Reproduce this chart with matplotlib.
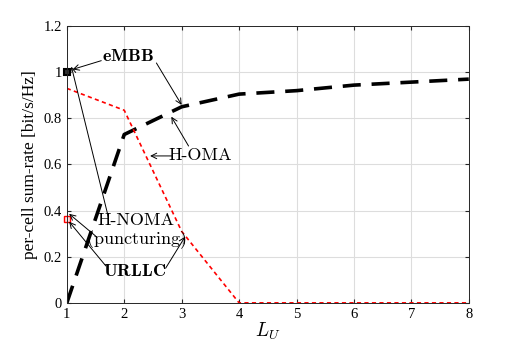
import os
import matplotlib
matplotlib.use("Agg")
import matplotlib.pyplot as plt
from matplotlib.font_manager import FontProperties

plt.rcParams["font.family"] = ["Liberation Serif", "DejaVu Serif"]
plt.rcParams["mathtext.fontset"] = "cm"

# datos
l_u = [1, 2, 3, 4, 5, 6, 7, 8]
h_oma_embb = [0.0, 0.73, 0.85, 0.905, 0.92, 0.944, 0.957, 0.97]
h_oma_urllc = [0.93, 0.835, 0.31, 0.0, 0.0, 0.0, 0.0, 0.0]
punct_embb = [1.0]
punct_urllc = [0.365]
x_punct = [1]

ttf_dir = os.path.join(matplotlib.get_data_path(), "fonts", "ttf")
f_rm = FontProperties(fname=os.path.join(ttf_dir, "cmr10.ttf"), size=13)

fig = plt.figure(figsize=(5.18, 3.43), dpi=100)
ax = fig.add_axes([0.129, 0.117, 0.776, 0.807])

ax.plot(l_u, h_oma_embb, color="black", linewidth=2.6, dashes=(5, 3))
ax.plot(l_u, h_oma_urllc, color="red", linewidth=1.2, dashes=(2.5, 2))
ax.plot(x_punct, punct_embb, "s", color="black", markersize=5,
        markerfacecolor="#333333", markeredgewidth=1.5, clip_on=False)
ax.plot(x_punct, punct_urllc, "s", color="red", markersize=5,
        markerfacecolor="#ffe5e5", markeredgewidth=1.0, clip_on=False)

ax.set_xlim(1, 8)
ax.set_ylim(0, 1.2)
ax.set_xticks(l_u)
ax.set_yticks([0, 0.2, 0.4, 0.6, 0.8, 1.0, 1.2])
ax.set_yticklabels(["0", "0.2", "0.4", "0.6", "0.8", "1", "1.2"])
ax.tick_params(direction="in", top=True, right=True, labelsize=10.5,
               length=3, color="#262626")
ax.grid(True, color="#dddddd", linewidth=0.8)
ax.set_axisbelow(True)
for s in ax.spines.values():
  s.set_color("#262626")
  s.set_linewidth(0.7)

ax.set_xlabel(r"$L_U$", fontsize=14, labelpad=0)
ax.set_ylabel("per-cell sum-rate [bit/s/Hz]", fontsize=12.5, labelpad=4)

arrow = dict(arrowstyle="->", color="black", linewidth=0.7,
             shrinkA=0, shrinkB=0)
txt = dict(ha="center", va="center")

# eMBB
ax.annotate("", xy=(1.1, 1.012), xytext=(1.6, 1.05), arrowprops=arrow)
ax.annotate("", xy=(3.0, 0.858), xytext=(2.56, 1.04), arrowprops=arrow)
ax.text(2.07, 1.067, r"$\mathbf{eMBB}$", fontsize=13, **txt)

# H-OMA
ax.annotate("", xy=(2.45, 0.637), xytext=(2.83, 0.637), arrowprops=arrow)
ax.annotate("", xy=(2.82, 0.807), xytext=(3.12, 0.68), arrowprops=arrow)
ax.text(3.32, 0.641, "H-OMA", fontproperties=f_rm, **txt)

# H-NOMA (puncturing)
ax.annotate("", xy=(1.08, 1.024), xytext=(1.72, 0.375), arrowprops=arrow)
ax.annotate("", xy=(1.04, 0.386), xytext=(1.5, 0.29), arrowprops=arrow)
ax.text(2.21, 0.358, "H-NOMA", fontproperties=f_rm, **txt)
ax.text(2.21, 0.276, r"$(\mathrm{puncturing})$", fontsize=13, **txt)

# URLLC
ax.annotate("", xy=(1.04, 0.352), xytext=(1.68, 0.16), arrowprops=arrow)
ax.annotate("", xy=(3.06, 0.287), xytext=(2.72, 0.15), arrowprops=arrow)
ax.text(2.18, 0.136, r"$\mathbf{URLLC}$", fontsize=13, **txt)

fig.savefig("out.png", dpi=100)
